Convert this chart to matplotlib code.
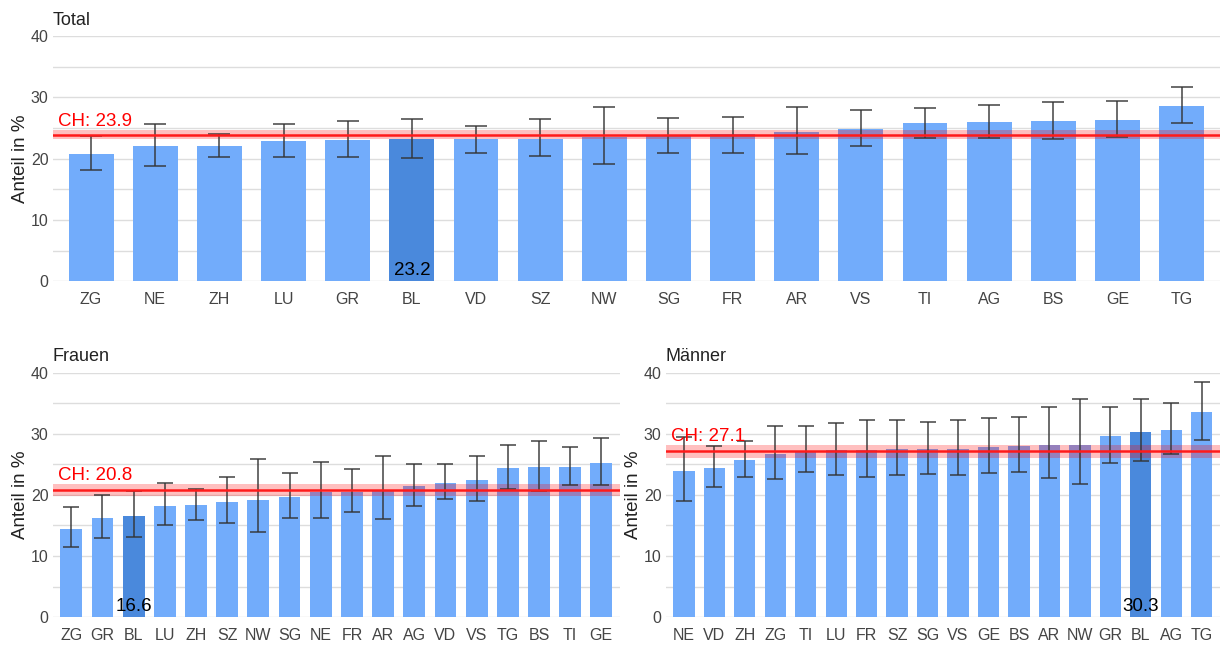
import matplotlib

matplotlib.use("Agg")
import matplotlib.pyplot as plt
import matplotlib.transforms as mtransforms
import numpy as np

plt.rcParams["font.family"] = ["Liberation Sans", "DejaVu Sans"]

# Total
total_cantons = ["ZG", "NE", "ZH", "LU", "GR", "BL", "VD", "SZ", "NW",
                 "SG", "FR", "AR", "VS", "TI", "AG", "BS", "GE", "TG"]
total_values = [20.8, 22.1, 22.1, 22.9, 23.0, 23.2, 23.2, 23.2, 23.5,
                23.8, 24.0, 24.3, 24.8, 25.8, 26.0, 26.1, 26.3, 28.6]
total_low = [18.1, 18.8, 20.2, 20.2, 20.2, 20.1, 21.0, 20.4, 19.2,
             20.9, 21.0, 20.8, 22.1, 23.4, 23.4, 23.2, 23.5, 25.8]
total_high = [23.7, 25.7, 24.1, 25.7, 26.1, 26.5, 25.4, 26.4, 28.4,
              26.6, 26.8, 28.5, 27.9, 28.3, 28.75, 29.3, 29.4, 31.7]
total_ch = 23.9
total_ch_band = 0.75

# Frauen
women_cantons = ["ZG", "GR", "BL", "LU", "ZH", "SZ", "NW", "SG", "NE",
                 "FR", "AR", "AG", "VD", "VS", "TG", "BS", "TI", "GE"]
women_values = [14.4, 16.2, 16.6, 18.2, 18.3, 18.8, 19.2, 19.6, 20.5,
                20.5, 20.8, 21.4, 21.9, 22.4, 24.4, 24.5, 24.5, 25.2]
women_low = [11.5, 13.0, 13.2, 15.1, 15.9, 15.4, 13.9, 16.2, 16.2,
             17.2, 16.05, 18.2, 19.3, 19.0, 20.9, 20.6, 21.6, 21.6]
women_high = [18.1, 20.0, 20.6, 21.9, 21.0, 22.9, 25.9, 23.6, 25.4,
              24.3, 26.3, 25.0, 25.0, 26.4, 28.2, 28.8, 27.9, 29.3]
women_ch = 20.8
women_ch_band = 0.95

# Männer
men_cantons = ["NE", "VD", "ZH", "ZG", "TI", "LU", "FR", "SZ", "SG",
               "VS", "GE", "BS", "AR", "NW", "GR", "BL", "AG", "TG"]
men_values = [23.9, 24.4, 25.7, 26.7, 27.1, 27.4, 27.4, 27.5, 27.5,
              27.5, 27.8, 28.0, 28.2, 28.2, 29.6, 30.3, 30.6, 33.6]
men_low = [19.0, 21.3, 22.9, 22.6, 23.7, 23.3, 23.0, 23.2, 23.4,
           23.3, 23.5, 23.7, 22.8, 21.7, 25.2, 25.5, 26.7, 29.0]
men_high = [29.5, 28.0, 28.8, 31.2, 31.2, 31.8, 32.3, 32.3, 31.9,
            32.2, 32.6, 32.8, 34.3, 35.7, 34.4, 35.6, 35.0, 38.4]
men_ch = 27.1
men_ch_band = 1.1

HIGHLIGHT = "BL"
BAR = "#72acfb"
BAR_HI = "#4a89dc"
GRID = "#dddddd"
TICK = "#444444"


def draw_panel(ax, title, cantons, values, low, high, ch, band, capsize):
    x = np.arange(len(cantons))
    vals = np.asarray(values)
    colors = [BAR_HI if c == HIGHLIGHT else BAR for c in cantons]
    ax.bar(x, vals, width=0.7, color=colors, zorder=2)
    yerr = [vals - np.asarray(low), np.asarray(high) - vals]
    ax.errorbar(x, vals, yerr=yerr, fmt="none", ecolor="#333333",
                elinewidth=1.2, capsize=capsize, capthick=1.2, alpha=0.85,
                zorder=4)
    ax.axhspan(ch - band, ch + band, color="#ff0000", alpha=0.25, lw=0,
               zorder=3)
    ax.axhline(ch, color="#ff1a1a", lw=1.8, zorder=5)

    # label sits just above the confidence band, at the left edge
    trans = mtransforms.blended_transform_factory(ax.transAxes, ax.transData)
    ax.annotate(f"CH: {ch:.1f}", xy=(0, ch + band), xycoords=trans,
                xytext=(4, 0), textcoords="offset points", color="#ff0000",
                fontsize=13.5, ha="left", va="bottom", zorder=6)

    i = cantons.index(HIGHLIGHT)
    ax.text(x[i], 0.3, f"{vals[i]:.1f}", ha="center", va="bottom",
            fontsize=13.5, color="black", zorder=6)

    ax.set_xlim(-0.6, len(cantons) - 0.4)
    ax.set_ylim(0, 40)
    ax.set_yticks([0, 10, 20, 30, 40])
    ax.set_yticks([5, 15, 25, 35], minor=True)
    ax.grid(axis="y", which="both", color=GRID, lw=1.0, zorder=0)
    ax.set_xticks(x)
    ax.set_xticklabels(cantons)
    ax.tick_params(axis="both", which="both", length=0, labelsize=11.5,
                   labelcolor=TICK)
    ax.tick_params(axis="x", pad=8)
    ax.tick_params(axis="y", pad=3)
    for s in ax.spines.values():
        s.set_visible(False)
    ax.set_ylabel("Anteil in %", fontsize=13.5, color="#222222", labelpad=1)
    ax.set_title(title, loc="left", fontsize=13, color="#222222", pad=8)


fig = plt.figure(figsize=(12.2, 6.51), dpi=100)
ax_top = fig.add_axes([0.0431, 0.568, 0.957, 0.3765])
ax_w = fig.add_axes([0.0431, 0.0518, 0.4651, 0.376])
ax_m = fig.add_axes([0.5456, 0.0518, 0.4544, 0.376])

draw_panel(ax_top, "Total", total_cantons, total_values, total_low,
           total_high, total_ch, total_ch_band, capsize=8)
draw_panel(ax_w, "Frauen", women_cantons, women_values, women_low,
           women_high, women_ch, women_ch_band, capsize=6)
draw_panel(ax_m, "Männer", men_cantons, men_values, men_low,
           men_high, men_ch, men_ch_band, capsize=6)

fig.savefig("out.png", dpi=100)
